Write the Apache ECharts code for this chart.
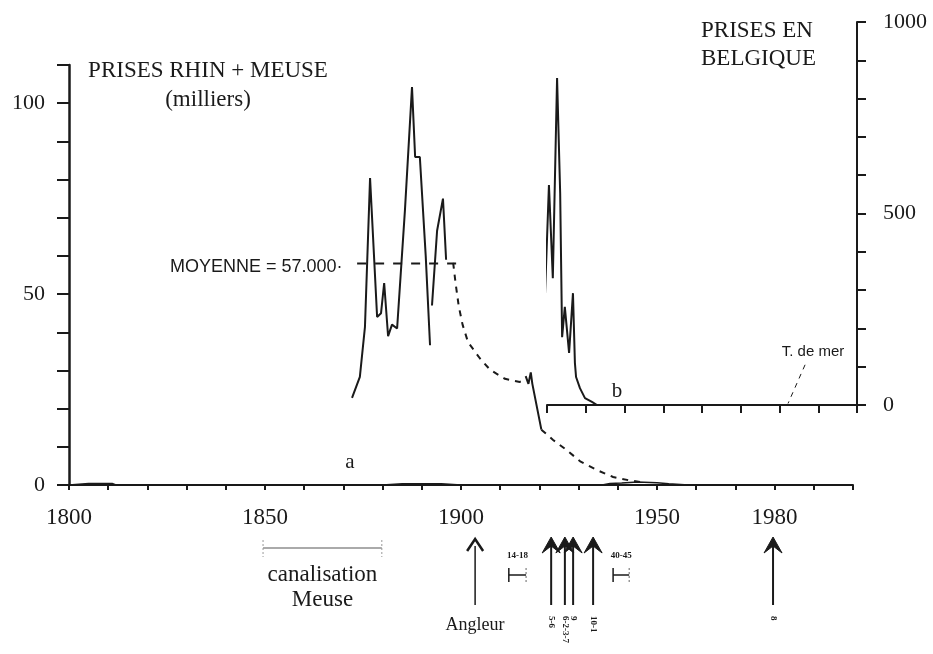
<!DOCTYPE html>
<html>
<head>
<meta charset="utf-8">
<script src="https://cdn.jsdelivr.net/npm/echarts@6/dist/echarts.min.js"></script>
<style>
    html, body { margin: 0; padding: 0; background: #fff; }
    #chart { width: 933px; height: 654px; }
</style>
</head>
<body>
<div id="chart"></div>
<script>
// a : prises Rhin + Meuse (milliers), [annee, valeur]
const rhinMeuseA = [
    [1872.2, 22.8], [1874.2, 28.3], [1875.5, 41.4], [1876.8, 80.4], [1878.6, 44], [1879.6, 45],
    [1880.4, 52.9], [1881.4, 39], [1882.4, 42], [1883.7, 41], [1885.7, 72], [1887.5, 104.2],
    [1888.3, 85.9], [1889.5, 85.9], [1891, 60], [1892.1, 36.6]
];
const rhinMeuseB = [[1892.6, 47], [1893.9, 66.6], [1895.4, 75], [1896.2, 59]];
const rhinMeuseC = [[1916.5, 28.5], [1917.2, 26.5], [1917.8, 29.5], [1918.2, 26.5], [1920.5, 14.5]];
const extrapolation1 = [
    [1898, 58.2], [1898.6, 53], [1899.4, 47], [1900.4, 42], [1901.8, 37.4], [1904.8, 33.2],
    [1907.4, 30.2], [1911.2, 27.8], [1915, 27], [1916.5, 27.5]
];
const extrapolation2 = [
    [1920.5, 14.5], [1923.5, 11.8], [1927, 9.1], [1930.4, 6.2], [1934.7, 3.9],
    [1938.8, 2.1], [1943, 1.2], [1947, 0.6]
];
const moyenne = [[1873.5, 58], [1900, 58]];
const baseline = [
    [1800, 0], [1805, 0.4], [1811, 0.4], [1812, 0], [1880, 0], [1885, 0.3], [1895, 0.3], [1900, 0],
    [1936, 0], [1938, 0.4], [1941, 0.5], [1945, 0.8], [1950, 0.6], [1953, 0.3], [1958, 0], [2000, 0]
];

// b : prises en Belgique
const belgique = [
    [1919.5, 292], [1920.5, 574], [1921.5, 331], [1922.6, 854], [1923.4, 553], [1923.9, 177],
    [1924.6, 256], [1925.7, 136], [1926.7, 292], [1927.2, 110], [1927.5, 73], [1928.5, 44],
    [1929.8, 18], [1931.6, 8], [1932.9, 0], [2000, 0]
];
const merLeader = [[1986.6, 105], [1982.2, 4]];

const yearLabels = [1800, 1850, 1900, 1950, 1980];
const leftLabels = [0, 50, 100];
const rightLabels = [0, 500, 1000];

const events = [
    { year: 1903.6, label: 'Angleur', light: true },
    { year: 1923.0, label: '5-6' },
    { year: 1926.5, label: '6-2-3-7' },
    { year: 1928.6, label: '9' },
    { year: 1933.7, label: '10-1' },
    { year: 1979.6, label: '8' }
];
const periods = [
    { from: 1912.2, to: 1916.6, label: '14-18' },
    { from: 1938.8, to: 1942.9, label: '40-45' }
];
const canalisation = [1849.5, 1879.8];

const SERIF = '"Liberation Serif", "DejaVu Serif", serif';
const SANS = '"Liberation Sans", Arial, sans-serif';
const INK = '#1a1a1a';

const lineSerie = function (data, x, y, dash, width) {
    return {
        type: 'line',
        xAxisIndex: x,
        yAxisIndex: y,
        data: data,
        showSymbol: false,
        clip: false,
        lineStyle: { color: INK, width: width || 2, type: dash || 'solid' }
    };
};

const buildAnnotations = function (chart) {
    const px = year => chart.convertToPixel({ xAxisIndex: 0 }, year);
    let items = [];

    events.forEach(ev => {
        let x = px(ev.year);
        items.push({
            type: 'line',
            shape: { x1: x, y1: 605, x2: x, y2: 546 },
            style: { stroke: INK, lineWidth: ev.light ? 1.5 : 2 }
        });
        if (ev.light) {
            items.push({
                type: 'polyline',
                shape: { points: [[x - 8, 551], [x, 539], [x + 8, 551]] },
                style: { stroke: INK, lineWidth: 2.5, fill: null }
            });
            items.push({
                type: 'text', x: x, y: 625,
                style: { text: ev.label, font: '18px ' + SERIF, fill: INK, textAlign: 'center', textVerticalAlign: 'middle' }
            });
        } else {
            items.push({
                type: 'polygon',
                shape: { points: [[x, 537], [x + 9, 553], [x, 546], [x - 9, 553]] },
                style: { fill: INK, stroke: INK, lineWidth: 1 }
            });
            items.push({
                type: 'text', x: x, y: 616, rotation: -Math.PI / 2,
                style: { text: ev.label, font: 'bold 9px ' + SERIF, fill: INK, textAlign: 'left', textVerticalAlign: 'middle' }
            });
        }
    });

    periods.forEach(p => {
        let x1 = px(p.from), x2 = px(p.to);
        items.push({ type: 'line', shape: { x1: x1, y1: 575, x2: x2, y2: 575 }, style: { stroke: INK, lineWidth: 1.5 } });
        items.push({ type: 'line', shape: { x1: x1, y1: 568, x2: x1, y2: 582 }, style: { stroke: INK, lineWidth: 1.5 } });
        items.push({ type: 'line', shape: { x1: x2, y1: 568, x2: x2, y2: 582 }, style: { stroke: '#666', lineWidth: 1, lineDash: [2, 2] } });
        items.push({
            type: 'text', x: (x1 + x2) / 2, y: 556,
            style: { text: p.label, font: 'bold 9px ' + SERIF, fill: INK, textAlign: 'center', textVerticalAlign: 'middle' }
        });
    });

    let c1 = px(canalisation[0]), c2 = px(canalisation[1]);
    items.push({ type: 'line', shape: { x1: c1, y1: 548, x2: c2, y2: 548 }, style: { stroke: '#aaa', lineWidth: 2 } });
    items.push({ type: 'line', shape: { x1: c1, y1: 540, x2: c1, y2: 557 }, style: { stroke: '#999', lineWidth: 1, lineDash: [2, 2] } });
    items.push({ type: 'line', shape: { x1: c2, y1: 540, x2: c2, y2: 557 }, style: { stroke: '#999', lineWidth: 1, lineDash: [2, 2] } });
    items.push({
        type: 'text', x: (c1 + c2) / 2, y: 575,
        style: { text: 'canalisation', font: '23px ' + SERIF, fill: INK, textAlign: 'center', textVerticalAlign: 'middle' }
    });
    items.push({
        type: 'text', x: (c1 + c2) / 2, y: 600,
        style: { text: 'Meuse', font: '23px ' + SERIF, fill: INK, textAlign: 'center', textVerticalAlign: 'middle' }
    });

    // titres et etiquettes
    const texts = [
        { t: 'PRISES RHIN + MEUSE', x: 208, y: 71, f: '23px ' + SERIF, a: 'center' },
        { t: '(milliers)', x: 208, y: 100, f: '23px ' + SERIF, a: 'center' },
        { t: 'PRISES EN', x: 701, y: 31, f: '23px ' + SERIF, a: 'left' },
        { t: 'BELGIQUE', x: 701, y: 59, f: '23px ' + SERIF, a: 'left' },
        { t: 'MOYENNE = 57.000·', x: 170, y: 267, f: '18px ' + SANS, a: 'left' },
        { t: 'a', x: 350, y: 462, f: '21px ' + SERIF, a: 'center' },
        { t: 'b', x: 617, y: 391, f: '21px ' + SERIF, a: 'center' },
        { t: 'T. de mer', x: 813, y: 352, f: '15px ' + SANS, a: 'center' }
    ];
    texts.forEach(t => {
        items.push({
            type: 'text', x: t.x, y: t.y,
            style: { text: t.t, font: t.f, fill: INK, textAlign: t.a, textVerticalAlign: 'middle' }
        });
    });

    chart.setOption({ graphic: { elements: items } });
};

const initChart = function () {
    const chart = echarts.init(document.getElementById('chart'), null, { renderer: 'canvas' });

    chart.setOption({
        animation: false,
        backgroundColor: '#fff',
        textStyle: { fontFamily: SERIF },
        grid: [
            { left: 69, right: 80, top: 65, bottom: 169 },
            { left: 547, right: 76, top: 22, bottom: 249 }
        ],
        xAxis: [{
            type: 'value',
            gridIndex: 0,
            min: 1800,
            max: 2000,
            interval: 10,
            axisLine: { lineStyle: { color: INK, width: 2 } },
            axisTick: { length: 5, lineStyle: { color: INK, width: 2 } },
            splitLine: { show: false },
            axisLabel: {
                formatter: v => yearLabels.includes(v) ? String(v) : '',
                color: INK,
                fontFamily: SERIF,
                fontSize: 23,
                margin: 21
            }
        }, {
            type: 'value',
            gridIndex: 1,
            min: 1920,
            max: 2000,
            interval: 10,
            axisLine: { lineStyle: { color: INK, width: 2 } },
            axisTick: { length: 8, lineStyle: { color: INK, width: 2 } },
            splitLine: { show: false },
            axisLabel: { show: false }
        }],
        yAxis: [{
            type: 'value',
            gridIndex: 0,
            min: 0,
            max: 110,
            interval: 10,
            axisLine: { show: true, lineStyle: { color: INK, width: 2.5 } },
            axisTick: { show: true, length: 12, lineStyle: { color: INK, width: 2 } },
            splitLine: { show: false },
            axisLabel: {
                formatter: v => leftLabels.includes(v) ? String(v) : '',
                color: INK,
                fontFamily: SERIF,
                fontSize: 22,
                margin: 24
            }
        }, {
            type: 'value',
            gridIndex: 1,
            position: 'right',
            min: 0,
            max: 1000,
            interval: 100,
            axisLine: { show: true, lineStyle: { color: INK, width: 2 } },
            axisTick: { show: true, length: 9, lineStyle: { color: INK, width: 2 } },
            splitLine: { show: false },
            axisLabel: {
                formatter: v => rightLabels.includes(v) ? String(v) : '',
                color: INK,
                fontFamily: SERIF,
                fontSize: 22,
                margin: 26
            }
        }],
        series: [
            lineSerie(baseline, 0, 0, 'solid', 1.5),
            lineSerie(rhinMeuseA, 0, 0),
            lineSerie(rhinMeuseB, 0, 0),
            lineSerie(rhinMeuseC, 0, 0),
            lineSerie(moyenne, 0, 0, [9, 9]),
            lineSerie(extrapolation1, 0, 0, [6, 6]),
            lineSerie(extrapolation2, 0, 0, [6, 6]),
            lineSerie(belgique, 1, 1),
            lineSerie(merLeader, 1, 1, [5, 5], 1)
        ]
    });

    buildAnnotations(chart);
};

initChart();
</script>
</body>
</html>
